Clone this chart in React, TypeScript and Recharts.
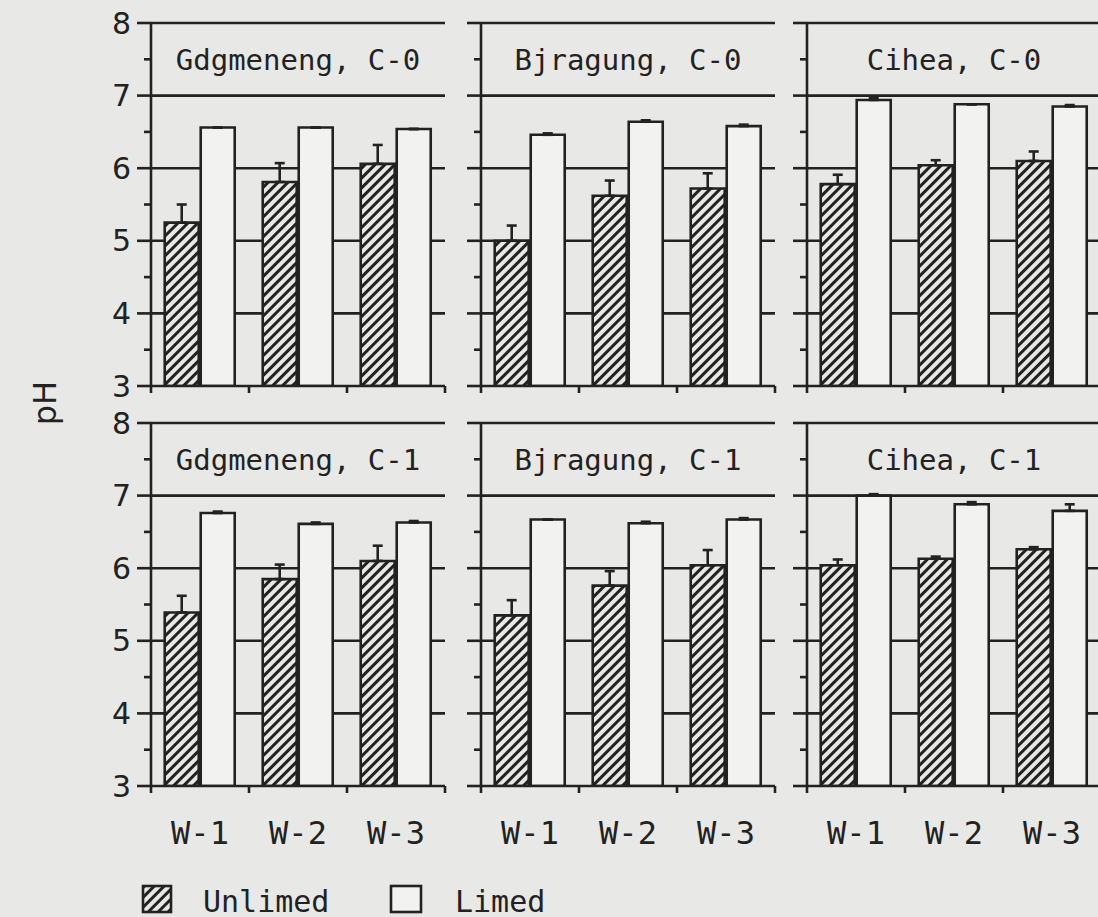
import React from "react";
import { BarChart, Bar, XAxis, YAxis, CartesianGrid, ErrorBar, ReferenceArea } from "recharts";

// wells on the x axis
const wells = ["W-1", "W-2", "W-3"];

// pH, unlimed / limed, per site and condition
const gdgC0Unlimed = [5.25, 5.81, 6.06];
const gdgC0Limed = [6.56, 6.56, 6.54];
const gdgC0UnlimedErr = [0.25, 0.26, 0.26];
const gdgC0LimedErr = [0, 0, 0];

const bjrC0Unlimed = [5.0, 5.62, 5.72];
const bjrC0Limed = [6.46, 6.64, 6.58];
const bjrC0UnlimedErr = [0.21, 0.21, 0.21];
const bjrC0LimedErr = [0.02, 0.02, 0.02];

const cihC0Unlimed = [5.78, 6.04, 6.1];
const cihC0Limed = [6.94, 6.88, 6.85];
const cihC0UnlimedErr = [0.13, 0.07, 0.13];
const cihC0LimedErr = [0.03, 0, 0.02];

const gdgC1Unlimed = [5.39, 5.85, 6.1];
const gdgC1Limed = [6.76, 6.61, 6.63];
const gdgC1UnlimedErr = [0.23, 0.2, 0.21];
const gdgC1LimedErr = [0.02, 0.02, 0.02];

const bjrC1Unlimed = [5.35, 5.76, 6.04];
const bjrC1Limed = [6.67, 6.62, 6.67];
const bjrC1UnlimedErr = [0.21, 0.2, 0.21];
const bjrC1LimedErr = [0, 0.02, 0.02];

const cihC1Unlimed = [6.04, 6.13, 6.26];
const cihC1Limed = [7.0, 6.88, 6.79];
const cihC1UnlimedErr = [0.08, 0.03, 0.03];
const cihC1LimedErr = [0.02, 0.03, 0.09];

const yTicks = [3, 3.5, 4, 4.5, 5, 5.5, 6, 6.5, 7, 7.5, 8];
const gridValues = [4, 5, 6, 7, 8];

const INK = "#222";
const BG = "#e8e8e6";
const MONO = "'DejaVu Sans Mono', monospace";
const SANS = "'DejaVu Sans', sans-serif";
const LW = 2.6;

function rows(unlimed: number[], limed: number[], uErr: number[], lErr: number[]) {
  return wells.map((w, i) => ({
    w,
    unlimed: unlimed[i],
    limed: limed[i],
    unlimedErr: [0, uErr[i]],
    limedErr: [0, lErr[i]],
  }));
}

const panels = [
  { title: "Gdgmeneng, C-0", row: 0, col: 0, data: rows(gdgC0Unlimed, gdgC0Limed, gdgC0UnlimedErr, gdgC0LimedErr) },
  { title: "Bjragung, C-0", row: 0, col: 1, data: rows(bjrC0Unlimed, bjrC0Limed, bjrC0UnlimedErr, bjrC0LimedErr) },
  { title: "Cihea, C-0", row: 0, col: 2, data: rows(cihC0Unlimed, cihC0Limed, cihC0UnlimedErr, cihC0LimedErr) },
  { title: "Gdgmeneng, C-1", row: 1, col: 0, data: rows(gdgC1Unlimed, gdgC1Limed, gdgC1UnlimedErr, gdgC1LimedErr) },
  { title: "Bjragung, C-1", row: 1, col: 1, data: rows(bjrC1Unlimed, bjrC1Limed, bjrC1UnlimedErr, bjrC1LimedErr) },
  { title: "Cihea, C-1", row: 1, col: 2, data: rows(cihC1Unlimed, cihC1Limed, cihC1UnlimedErr, cihC1LimedErr) },
];

const colLeft = [151, 481, 807];
const rowTop = [23, 423];
const PLOT_W = 294;
const PLOT_H = 363;
const AXIS_W = 60;
const X_AXIS_H = 72;
const TOP = 22;

function YTick(props: any) {
  const { x, y, payload, showLabel } = props;
  const major = Number.isInteger(payload.value);
  return (
    <g>
      <line x1={x - (major ? 14 : 7)} x2={x} y1={y} y2={y} stroke={INK} strokeWidth={LW} />
      {showLabel && major && (
        <text x={x - 20} y={y} textAnchor="end" dominantBaseline="central" fill={INK} fontFamily={SANS} fontSize={30}>
          {payload.value}
        </text>
      )}
    </g>
  );
}

function XTick(props: any) {
  const { x, y, payload, index, showLabel } = props;
  const half = payload.offset ?? PLOT_W / 6;
  return (
    <g>
      <line x1={x - half} x2={x - half} y1={y} y2={y + 7} stroke={INK} strokeWidth={LW} />
      {index === wells.length - 1 && (
        <line x1={x + half} x2={x + half} y1={y} y2={y + 7} stroke={INK} strokeWidth={LW} />
      )}
      {showLabel && (
        <text x={x} y={y + 47} textAnchor="middle" dominantBaseline="central" fill={INK} fontFamily={MONO} fontSize={32}>
          {payload.value}
        </text>
      )}
    </g>
  );
}

function Hatch({ id }: { id: string }) {
  return (
    <pattern id={id} width={7} height={7} patternUnits="userSpaceOnUse" patternTransform="rotate(45)">
      <rect width={7} height={7} fill={BG} />
      <line x1={1.5} y1={0} x2={1.5} y2={7} stroke={INK} strokeWidth={3} />
    </pattern>
  );
}

function Panel({ p }: { p: (typeof panels)[number] }) {
  const hatchId = `hatch-${p.row}-${p.col}`;
  return (
    <div style={{ position: "absolute", left: colLeft[p.col] - AXIS_W, top: rowTop[p.row] - TOP }}>
      <BarChart
        width={AXIS_W + PLOT_W + 5}
        height={TOP + PLOT_H + X_AXIS_H}
        data={p.data}
        margin={{ top: TOP, right: 5, left: 0, bottom: 0 }}
        barCategoryGap="14%"
        barGap={2}
      >
        <defs>
          <Hatch id={hatchId} />
        </defs>
        <CartesianGrid vertical={false} horizontalValues={gridValues} stroke={INK} strokeWidth={LW} />
        <ReferenceArea
          y1={7}
          y2={8}
          fill="none"
          stroke="none"
          ifOverflow="visible"
          label={{ value: p.title, position: "center", fill: INK, fontFamily: MONO, fontSize: 29 }}
        />
        <XAxis
          dataKey="w"
          height={X_AXIS_H}
          interval={0}
          tickLine={false}
          tickSize={0}
          tickMargin={0}
          axisLine={{ stroke: INK, strokeWidth: LW }}
          tick={<XTick showLabel={p.row === 1} />}
        />
        <YAxis
          domain={[3, 8]}
          ticks={yTicks}
          width={AXIS_W}
          interval={0}
          tickLine={false}
          tickSize={0}
          tickMargin={0}
          allowDataOverflow
          axisLine={{ stroke: INK, strokeWidth: LW }}
          tick={<YTick showLabel={p.col === 0} />}
        />
        <YAxis
          yAxisId="r"
          orientation="right"
          width={0}
          domain={[3, 8]}
          tick={false}
          tickLine={false}
          axisLine={{ stroke: INK, strokeWidth: LW }}
        />
        <Bar dataKey="unlimed" fill={`url(#${hatchId})`} stroke={INK} strokeWidth={LW} isAnimationActive={false}>
          <ErrorBar dataKey="unlimedErr" direction="y" width={5} stroke={INK} strokeWidth={LW} />
        </Bar>
        <Bar dataKey="limed" fill="#f2f2f0" stroke={INK} strokeWidth={LW} isAnimationActive={false}>
          <ErrorBar dataKey="limedErr" direction="y" width={5} stroke={INK} strokeWidth={LW} />
        </Bar>
      </BarChart>
    </div>
  );
}

export default function App() {
  return (
    <div
      style={{
        position: "fixed",
        left: 0,
        top: 0,
        width: 1098,
        height: 917,
        background: BG,
        overflow: "hidden",
      }}
    >
      {panels.map((p) => (
        <Panel key={p.title} p={p} />
      ))}
      <div
        style={{
          position: "absolute",
          left: 45,
          top: 403,
          transform: "translate(-50%, -50%) rotate(-90deg)",
          fontFamily: SANS,
          fontSize: 32,
          color: INK,
          lineHeight: 1,
        }}
      >
        pH
      </div>
      <svg style={{ position: "absolute", left: 0, top: 870 }} width={600} height={47}>
        <defs>
          <Hatch id="hatch-legend" />
        </defs>
        <rect x={143} y={16} width={28} height={26} fill="url(#hatch-legend)" stroke={INK} strokeWidth={LW} />
        <text x={203} y={31} dominantBaseline="central" fill={INK} fontFamily={MONO} fontSize={30}>
          Unlimed
        </text>
        <rect x={391} y={16} width={30} height={26} fill="#f2f2f0" stroke={INK} strokeWidth={LW} />
        <text x={455} y={31} dominantBaseline="central" fill={INK} fontFamily={MONO} fontSize={30}>
          Limed
        </text>
      </svg>
    </div>
  );
}
